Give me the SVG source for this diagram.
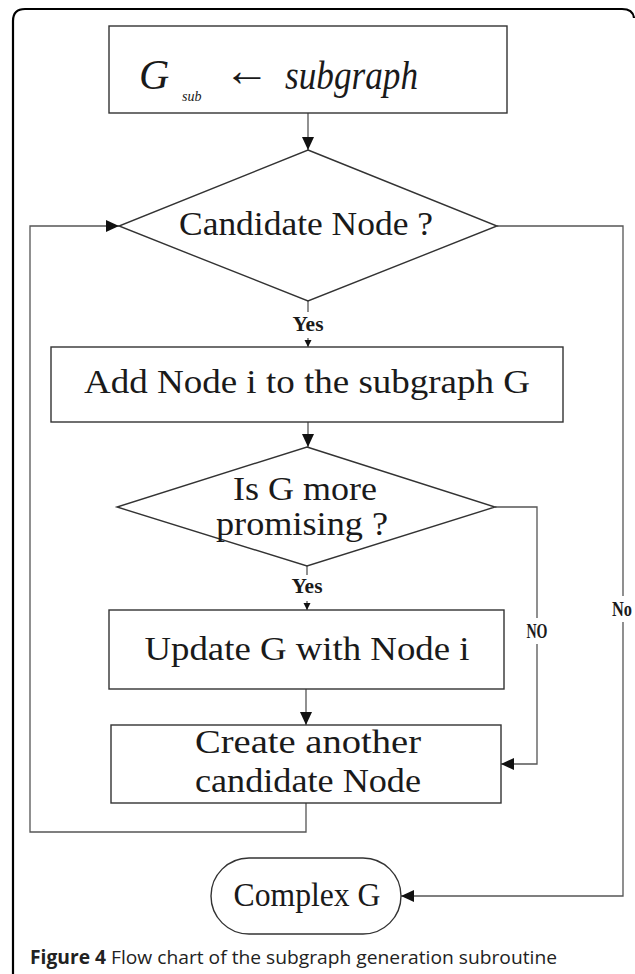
<svg xmlns="http://www.w3.org/2000/svg" width="635" height="974" viewBox="0 0 635 974">
<defs>
<marker id="big" markerUnits="userSpaceOnUse" markerWidth="14" markerHeight="14" viewBox="0 0 14 14" refX="13" refY="7" orient="auto">
<path d="M0,1 L13,7 L0,13 Z" fill="#111"/>
</marker>
<marker id="small" markerUnits="userSpaceOnUse" markerWidth="8" markerHeight="8" viewBox="0 0 8 8" refX="7" refY="4" orient="auto">
<path d="M0,0.5 L7,4 L0,7.5 Z" fill="#111"/>
</marker>
</defs>
<style>
.box{fill:#fff;stroke:#333;stroke-width:1.4}
.ln{fill:none;stroke:#555;stroke-width:1.3}
.t{font-family:"Liberation Serif",serif;font-size:33px;fill:#1a1a1a;text-anchor:middle}
.lbl{font-family:"Liberation Serif",serif;font-size:21px;font-weight:bold;fill:#1a1a1a;text-anchor:middle}
.it{font-family:"Liberation Serif",serif;font-style:italic;fill:#1a1a1a}
</style>
<rect width="635" height="974" fill="#fff"/>
<path d="M13,974 V21 Q13,9 25,9 H622 Q633,9 634,18" fill="none" stroke="#000" stroke-width="2.2"/>

<g id="connectors">
<line class="ln" x1="308" y1="113" x2="308" y2="150" marker-end="url(#big)"/>
<line class="ln" x1="308" y1="301" x2="308" y2="312"/>
<line class="ln" x1="308" y1="338" x2="308" y2="347" marker-end="url(#small)"/>
<line class="ln" x1="308" y1="422" x2="308" y2="447" marker-end="url(#big)"/>
<line class="ln" x1="307" y1="566" x2="307" y2="575"/>
<line class="ln" x1="307" y1="601" x2="307" y2="610" marker-end="url(#small)"/>
<line class="ln" x1="306" y1="689" x2="306" y2="725" marker-end="url(#big)"/>
<polyline class="ln" points="495,507 537,507 537,618"/>
<polyline class="ln" points="537,644 537,764 501,764" marker-end="url(#big)"/>
<polyline class="ln" points="306,803 306,832 30,832 30,226 119,226" marker-end="url(#big)"/>
<polyline class="ln" points="497,226 623,226 623,596"/>
<polyline class="ln" points="623,622 623,896 401,896" marker-end="url(#big)"/>
<text class="lbl" x="308" y="331" textLength="31" lengthAdjust="spacingAndGlyphs">Yes</text>
<text class="lbl" x="307" y="593" textLength="31" lengthAdjust="spacingAndGlyphs">Yes</text>
<text class="lbl" x="537" y="638" textLength="21" lengthAdjust="spacingAndGlyphs">NO</text>
<text class="lbl" x="622" y="616" textLength="20" lengthAdjust="spacingAndGlyphs">No</text>
</g>

<g id="start">
<rect class="box" x="109" y="26" width="398" height="87"/>
<text class="it" x="139" y="89" font-size="42">G</text>
<text class="it" x="182" y="101" font-size="14">sub</text>
<text x="224" y="86" font-family="Liberation Serif,serif" font-size="46" fill="#1a1a1a">←</text>
<text class="it" x="285" y="89" font-size="40" textLength="133" lengthAdjust="spacingAndGlyphs">subgraph</text>
</g>

<g id="candidate">
<polygon class="box" points="308,150 497,226 308,301 119,226"/>
<text class="t" x="306" y="235" textLength="254" lengthAdjust="spacingAndGlyphs">Candidate Node ?</text>
</g>

<g id="add">
<rect class="box" x="51" y="347" width="512" height="75"/>
<text class="t" x="307" y="393" textLength="446" lengthAdjust="spacingAndGlyphs">Add Node i to the subgraph G</text>
</g>

<g id="promising">
<polygon class="box" points="307,447 495,507 307,566 117,507"/>
<text class="t" x="305" y="500" textLength="144" lengthAdjust="spacingAndGlyphs">Is G more</text>
<text class="t" x="302" y="535" textLength="172" lengthAdjust="spacingAndGlyphs">promising ?</text>
</g>

<g id="update">
<rect class="box" x="109" y="610" width="395" height="79"/>
<text class="t" x="307" y="660" textLength="325" lengthAdjust="spacingAndGlyphs">Update G with Node i</text>
</g>

<g id="create">
<rect class="box" x="111" y="725" width="390" height="78"/>
<text class="t" x="308" y="753" textLength="226" lengthAdjust="spacingAndGlyphs">Create another</text>
<text class="t" x="308" y="792" textLength="226" lengthAdjust="spacingAndGlyphs">candidate Node</text>
</g>

<g id="complex">
<rect class="box" x="211" y="858" width="190" height="76" rx="38" ry="38"/>
<text class="t" x="307" y="906" textLength="147" lengthAdjust="spacingAndGlyphs">Complex G</text>
</g>

<text x="30" y="964" font-family="Open Sans,sans-serif" font-size="19" fill="#222" textLength="527" lengthAdjust="spacingAndGlyphs"><tspan font-weight="bold">Figure 4</tspan> Flow chart of the subgraph generation subroutine</text>
</svg>
